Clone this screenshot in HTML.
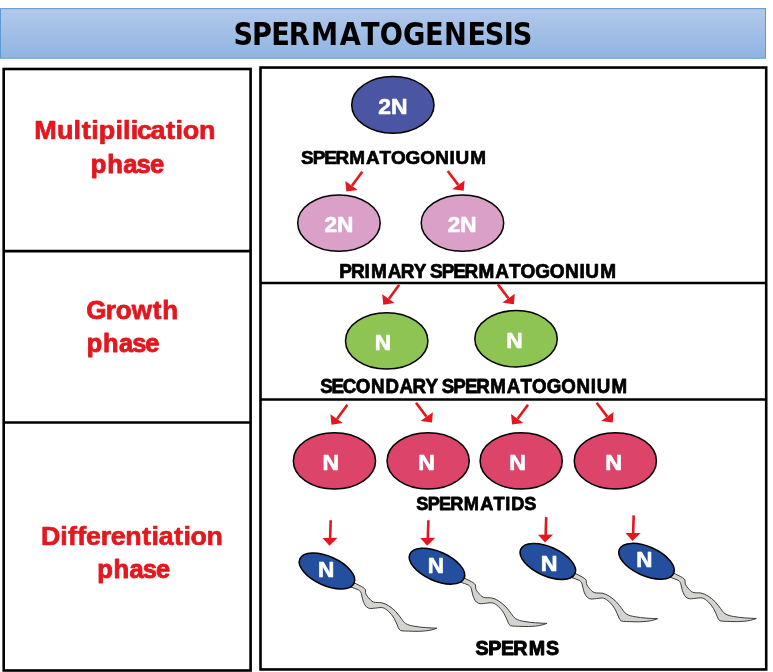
<!DOCTYPE html>
<html><head><meta charset="utf-8"><title>Spermatogenesis</title>
<style>
html,body{margin:0;padding:0;background:#fff;}
svg{display:block;}
text{font-family:"Liberation Sans",Arial,Helvetica,sans-serif;font-weight:bold;font-kerning:none;}
</style></head><body>
<svg width="773" height="672" viewBox="0 0 773 672">
<defs><linearGradient id="hg" x1="0" y1="0" x2="0" y2="1"><stop offset="0" stop-color="#b3c9e9"/><stop offset="1" stop-color="#8fb4e3"/></linearGradient></defs>
<rect width="773" height="672" fill="#fff"/>
<rect x="0.5" y="8.6" width="765" height="49.6" fill="url(#hg)" stroke="#5b9bd5" stroke-width="1"/>
<g fill="none" stroke="#000" stroke-width="2.6">
<rect x="3.7" y="69" width="246.9" height="601.5"/>
<path d="M3.7,251.15 H250.6 M3.7,422.45 H250.6"/>
<rect x="260.5" y="67.55" width="505.7" height="601.9"/>
<path d="M260.5,283.05 H766.2 M260.5,399.5 H766.2"/>
</g>
<ellipse cx="392.85" cy="104.9" rx="41.15" ry="28.30" fill="#4a55a3" stroke="#000" stroke-width="1.5"/>
<ellipse cx="338.95" cy="223.1" rx="41.25" ry="28.20" fill="#dba0c8" stroke="#000" stroke-width="1.5"/>
<ellipse cx="462.45" cy="223.1" rx="41.25" ry="28.20" fill="#dba0c8" stroke="#000" stroke-width="1.5"/>
<ellipse cx="386.7" cy="340.9" rx="41.20" ry="28.20" fill="#8dc454" stroke="#000" stroke-width="1.5"/>
<ellipse cx="516.05" cy="338.8" rx="41.20" ry="28.20" fill="#8dc454" stroke="#000" stroke-width="1.5"/>
<ellipse cx="334.45" cy="460.9" rx="41.10" ry="28.20" fill="#dd4469" stroke="#000" stroke-width="1.5"/>
<ellipse cx="428.15" cy="460.9" rx="41.10" ry="28.20" fill="#dd4469" stroke="#000" stroke-width="1.5"/>
<ellipse cx="521.2" cy="460.9" rx="41.10" ry="28.20" fill="#dd4469" stroke="#000" stroke-width="1.5"/>
<ellipse cx="615.35" cy="460.9" rx="41.10" ry="28.20" fill="#dd4469" stroke="#000" stroke-width="1.5"/>
<g transform="translate(346.4,191.6)" fill="#e3171f" stroke="none"><path d="M15.9,-19.9 L5.5,-5.8" stroke="#e3171f" stroke-width="2.6" fill="none"/><path d="M0,0 L-1.1,-10.5 L11.3,-1.7 Z"/></g>
<g transform="translate(463.7,190.8)" fill="#e3171f" stroke="none"><path d="M-16.0,-19.8 L-5.5,-5.9" stroke="#e3171f" stroke-width="2.6" fill="none"/><path d="M0,0 L0.9,-10.4 L-11.5,-1.6 Z"/></g>
<g transform="translate(383.3,304.7)" fill="#e3171f" stroke="none"><path d="M15.9,-19.9 L5.5,-5.8" stroke="#e3171f" stroke-width="2.6" fill="none"/><path d="M0,0 L-1.1,-10.5 L11.3,-1.7 Z"/></g>
<g transform="translate(513.9,304.2)" fill="#e3171f" stroke="none"><path d="M-16.0,-19.8 L-5.5,-5.9" stroke="#e3171f" stroke-width="2.6" fill="none"/><path d="M0,0 L0.9,-10.4 L-11.5,-1.6 Z"/></g>
<g transform="translate(331.5,424.7)" fill="#e3171f" stroke="none"><path d="M15.9,-19.9 L5.5,-5.8" stroke="#e3171f" stroke-width="2.6" fill="none"/><path d="M0,0 L-1.1,-10.5 L11.3,-1.7 Z"/></g>
<g transform="translate(432.0,422.6)" fill="#e3171f" stroke="none"><path d="M-16.0,-19.8 L-5.5,-5.9" stroke="#e3171f" stroke-width="2.6" fill="none"/><path d="M0,0 L0.9,-10.4 L-11.5,-1.6 Z"/></g>
<g transform="translate(512.1,424.6)" fill="#e3171f" stroke="none"><path d="M15.9,-19.9 L5.5,-5.8" stroke="#e3171f" stroke-width="2.6" fill="none"/><path d="M0,0 L-1.1,-10.5 L11.3,-1.7 Z"/></g>
<g transform="translate(612.7,422.5)" fill="#e3171f" stroke="none"><path d="M-16.0,-19.8 L-5.5,-5.9" stroke="#e3171f" stroke-width="2.6" fill="none"/><path d="M0,0 L0.9,-10.4 L-11.5,-1.6 Z"/></g>
<g transform="translate(0,0)" fill="#e3171f" stroke="none"><path d="M330.7,520.2 L330.1,539" stroke="#e3171f" stroke-width="2.6" fill="none"/><path d="M322.5,537.9 L337.6,537.7 L329.5,545.7 Z"/></g>
<g transform="translate(97.7,0)" fill="#e3171f" stroke="none"><path d="M330.7,520.2 L330.1,539" stroke="#e3171f" stroke-width="2.6" fill="none"/><path d="M322.5,537.9 L337.6,537.7 L329.5,545.7 Z"/></g>
<g transform="translate(215.5,-3.1)" fill="#e3171f" stroke="none"><path d="M330.7,520.2 L330.1,539" stroke="#e3171f" stroke-width="2.6" fill="none"/><path d="M322.5,537.9 L337.6,537.7 L329.5,545.7 Z"/></g>
<g transform="translate(303,-4.8)" fill="#e3171f" stroke="none"><path d="M330.7,520.2 L330.1,539" stroke="#e3171f" stroke-width="2.6" fill="none"/><path d="M322.5,537.9 L337.6,537.7 L329.5,545.7 Z"/></g>
<g transform="translate(0,0)"><path d="M354.2,582.8 L361.3,586.4 C364,588 365.8,589 365.6,591 C365.2,593.5 366.5,595.5 368.5,597.75 C370,599.5 371.5,601.3 373.4,602 C376,602.9 378.5,602.3 381.3,602.7 C384,603.2 386.2,604.2 388.4,605.6 C391,607.3 393.5,609.3 395.5,611.3 C397.8,613.7 399.5,616.2 401.2,618.4 C402.6,620.3 403.8,622.3 405.5,623.4 C408,625 411,625.7 414,626.2 C418,626.9 421.5,627.3 425.4,627.6 C429,627.9 433,628 436.8,628.2 C433,629.8 429,630.5 425.4,630.9 C420.5,631.4 416,631.5 411.2,631.2 C407.5,631 403.5,631.2 400.5,630.5 C399.3,629.8 398.8,628.8 398.3,627.6 C397,624.5 395.8,621.3 394.1,618.4 C392.6,615.8 390.8,613.3 388.4,611.3 C386.7,609.9 385,608.2 382.7,607.7 C380.3,607.2 378,607.9 375.6,608.1 C373.2,608.3 370.6,608.9 368.5,608.1 C366.9,607.5 365.7,606.3 364.9,604.9 C364,603.3 363.3,601.6 362.8,599.9 C362.2,597.8 361.9,595.6 361.3,593.5 C360.8,591.9 359.9,590.6 358.5,589.9 C355.8,588.5 352.8,587.8 350,586.8 Z" fill="#d3d3cf" stroke="#3c3c3c" stroke-width="1" stroke-linejoin="round"/><ellipse cx="327" cy="571" rx="29.7" ry="14.5" transform="rotate(24 327 571)" fill="#244f9e" stroke="#000" stroke-width="1.5"/></g>
<g transform="translate(110,-4.8)"><path d="M354.2,582.8 L361.3,586.4 C364,588 365.8,589 365.6,591 C365.2,593.5 366.5,595.5 368.5,597.75 C370,599.5 371.5,601.3 373.4,602 C376,602.9 378.5,602.3 381.3,602.7 C384,603.2 386.2,604.2 388.4,605.6 C391,607.3 393.5,609.3 395.5,611.3 C397.8,613.7 399.5,616.2 401.2,618.4 C402.6,620.3 403.8,622.3 405.5,623.4 C408,625 411,625.7 414,626.2 C418,626.9 421.5,627.3 425.4,627.6 C429,627.9 433,628 436.8,628.2 C433,629.8 429,630.5 425.4,630.9 C420.5,631.4 416,631.5 411.2,631.2 C407.5,631 403.5,631.2 400.5,630.5 C399.3,629.8 398.8,628.8 398.3,627.6 C397,624.5 395.8,621.3 394.1,618.4 C392.6,615.8 390.8,613.3 388.4,611.3 C386.7,609.9 385,608.2 382.7,607.7 C380.3,607.2 378,607.9 375.6,608.1 C373.2,608.3 370.6,608.9 368.5,608.1 C366.9,607.5 365.7,606.3 364.9,604.9 C364,603.3 363.3,601.6 362.8,599.9 C362.2,597.8 361.9,595.6 361.3,593.5 C360.8,591.9 359.9,590.6 358.5,589.9 C355.8,588.5 352.8,587.8 350,586.8 Z" fill="#d3d3cf" stroke="#3c3c3c" stroke-width="1" stroke-linejoin="round"/><ellipse cx="327" cy="571" rx="29.7" ry="14.5" transform="rotate(24 327 571)" fill="#244f9e" stroke="#000" stroke-width="1.5"/></g>
<g transform="translate(220.8,-9.5)"><path d="M354.2,582.8 L361.3,586.4 C364,588 365.8,589 365.6,591 C365.2,593.5 366.5,595.5 368.5,597.75 C370,599.5 371.5,601.3 373.4,602 C376,602.9 378.5,602.3 381.3,602.7 C384,603.2 386.2,604.2 388.4,605.6 C391,607.3 393.5,609.3 395.5,611.3 C397.8,613.7 399.5,616.2 401.2,618.4 C402.6,620.3 403.8,622.3 405.5,623.4 C408,625 411,625.7 414,626.2 C418,626.9 421.5,627.3 425.4,627.6 C429,627.9 433,628 436.8,628.2 C433,629.8 429,630.5 425.4,630.9 C420.5,631.4 416,631.5 411.2,631.2 C407.5,631 403.5,631.2 400.5,630.5 C399.3,629.8 398.8,628.8 398.3,627.6 C397,624.5 395.8,621.3 394.1,618.4 C392.6,615.8 390.8,613.3 388.4,611.3 C386.7,609.9 385,608.2 382.7,607.7 C380.3,607.2 378,607.9 375.6,608.1 C373.2,608.3 370.6,608.9 368.5,608.1 C366.9,607.5 365.7,606.3 364.9,604.9 C364,603.3 363.3,601.6 362.8,599.9 C362.2,597.8 361.9,595.6 361.3,593.5 C360.8,591.9 359.9,590.6 358.5,589.9 C355.8,588.5 352.8,587.8 350,586.8 Z" fill="#d3d3cf" stroke="#3c3c3c" stroke-width="1" stroke-linejoin="round"/><ellipse cx="327" cy="571" rx="29.7" ry="14.5" transform="rotate(24 327 571)" fill="#244f9e" stroke="#000" stroke-width="1.5"/></g>
<g transform="translate(319.5,-9.7)"><path d="M354.2,582.8 L361.3,586.4 C364,588 365.8,589 365.6,591 C365.2,593.5 366.5,595.5 368.5,597.75 C370,599.5 371.5,601.3 373.4,602 C376,602.9 378.5,602.3 381.3,602.7 C384,603.2 386.2,604.2 388.4,605.6 C391,607.3 393.5,609.3 395.5,611.3 C397.8,613.7 399.5,616.2 401.2,618.4 C402.6,620.3 403.8,622.3 405.5,623.4 C408,625 411,625.7 414,626.2 C418,626.9 421.5,627.3 425.4,627.6 C429,627.9 433,628 436.8,628.2 C433,629.8 429,630.5 425.4,630.9 C420.5,631.4 416,631.5 411.2,631.2 C407.5,631 403.5,631.2 400.5,630.5 C399.3,629.8 398.8,628.8 398.3,627.6 C397,624.5 395.8,621.3 394.1,618.4 C392.6,615.8 390.8,613.3 388.4,611.3 C386.7,609.9 385,608.2 382.7,607.7 C380.3,607.2 378,607.9 375.6,608.1 C373.2,608.3 370.6,608.9 368.5,608.1 C366.9,607.5 365.7,606.3 364.9,604.9 C364,603.3 363.3,601.6 362.8,599.9 C362.2,597.8 361.9,595.6 361.3,593.5 C360.8,591.9 359.9,590.6 358.5,589.9 C355.8,588.5 352.8,587.8 350,586.8 Z" fill="#d3d3cf" stroke="#3c3c3c" stroke-width="1" stroke-linejoin="round"/><ellipse cx="327" cy="571" rx="29.7" ry="14.5" transform="rotate(24 327 571)" fill="#244f9e" stroke="#000" stroke-width="1.5"/></g>
<text transform="scale(0.8733,1)" x="267.30 288.57 310.66 330.53 356.01 389.11 413.24 434.85 461.50 486.64 508.52 535.28 555.17 576.96 587.15" y="45.45" font-size="31.21" fill="#000" style="font-family:'DejaVu Sans','Liberation Sans',sans-serif">SPERMATOGENESIS</text>
<text transform="scale(1.0617,1)" x="32.30 53.78 69.21 76.89 85.96 93.11 108.73 115.89 123.06 128.98 141.76 156.28 165.35 172.23 187.41" y="139.35" font-size="25.44" fill="#e3171f" stroke="#e3171f" stroke-width="0.71" stroke-linejoin="round">Multipilication</text>
<text transform="scale(1.0064,1)" x="90.24 106.52 122.53 135.75 148.98" y="172.65" font-size="25.44" fill="#e3171f" stroke="#e3171f" stroke-width="0.90" stroke-linejoin="round">phase</text>
<text transform="scale(1.0210,1)" x="84.54 103.59 113.48 129.10 149.72 158.84" y="319.05" font-size="25.44" fill="#e3171f" stroke="#e3171f" stroke-width="0.76" stroke-linejoin="round">Growth</text>
<text transform="scale(0.9993,1)" x="86.74 103.01 119.02 132.25 145.47" y="352.25" font-size="25.44" fill="#e3171f" stroke="#e3171f" stroke-width="0.89" stroke-linejoin="round">phase</text>
<text transform="scale(1.0402,1)" x="39.49 57.93 65.28 74.23 82.76 96.81 106.58 120.49 136.56 145.68 152.62 167.23 176.34 183.22 198.48" y="545.45" font-size="25.73" fill="#e3171f" stroke="#e3171f" stroke-width="0.67" stroke-linejoin="round">Differentiation</text>
<text transform="scale(0.9908,1)" x="98.18 114.64 130.83 144.20 157.58" y="578.45" font-size="25.73" fill="#e3171f" stroke="#e3171f" stroke-width="0.89" stroke-linejoin="round">phase</text>
<text transform="scale(0.9988,1)" x="301.37 313.03 324.62 335.82 349.73 366.41 379.98 391.56 406.10 420.65 435.81 450.17 456.01 470.85" y="163.95" font-size="18.97" fill="#000" stroke="#000" stroke-width="0.71" stroke-linejoin="round">SPERMATOGONIUM</text>
<text transform="scale(0.9745,1)" x="348.25 360.29 374.03 380.75 397.92 411.31 424.67 437.08 441.25 453.26 465.21 476.76 491.10 508.28 522.27 534.20 549.19 564.19 579.81 594.59 600.63 615.92" y="278.45" font-size="19.48" fill="#000" stroke="#000" stroke-width="0.73" stroke-linejoin="round">PRIMARY SPERMATOGONIUM</text>
<text transform="scale(0.9660,1)" x="331.52 343.11 354.75 368.37 384.08 399.04 413.62 427.09 440.53 452.99 457.22 469.31 481.34 492.96 507.41 524.69 538.76 550.78 565.87 580.97 596.68 611.51 617.63 633.04" y="393.45" font-size="19.40" fill="#000" stroke="#000" stroke-width="0.75" stroke-linejoin="round">SECONDARY SPERMATOGONIUM</text>
<text transform="scale(0.9579,1)" x="434.53 446.51 458.42 469.94 484.27 501.37 515.29 527.35 533.62 547.35" y="510.45" font-size="18.97" fill="#000" stroke="#000" stroke-width="0.77" stroke-linejoin="round">SPERMATIDS</text>
<text transform="scale(0.9799,1)" x="485.19 498.26 511.26 523.84 539.50 557.32" y="654.70" font-size="20.06" fill="#000" stroke="#000" stroke-width="0.95" stroke-linejoin="round">SPERMS</text>
<text transform="scale(1.0218,1)" x="370.09 382.58" y="114.45" font-size="22.46" fill="#fff" stroke="#fff" stroke-width="0.60" stroke-linejoin="round">2N</text>
<text transform="scale(1.0620,1)" x="305.52 317.40" y="231.85" font-size="21.37" fill="#fff" stroke="#fff" stroke-width="0.60" stroke-linejoin="round">2N</text>
<text transform="scale(1.0580,1)" x="423.21 435.09" y="231.85" font-size="21.37" fill="#fff" stroke="#fff" stroke-width="0.60" stroke-linejoin="round">2N</text>
<text transform="scale(1.0102,1)" x="370.92" y="350.45" font-size="22.31" fill="#fff" stroke="#fff" stroke-width="0.67" stroke-linejoin="round">N</text>
<text transform="scale(1.0117,1)" x="500.46" y="348.10" font-size="22.53" fill="#fff" stroke="#fff" stroke-width="0.67" stroke-linejoin="round">N</text>
<text transform="scale(1.0330,1)" x="312.19" y="470.45" font-size="22.31" fill="#fff" stroke="#fff" stroke-width="0.68" stroke-linejoin="round">N</text>
<text transform="scale(1.0330,1)" x="404.98" y="470.45" font-size="22.31" fill="#fff" stroke="#fff" stroke-width="0.68" stroke-linejoin="round">N</text>
<text transform="scale(1.0330,1)" x="492.88" y="470.45" font-size="22.31" fill="#fff" stroke="#fff" stroke-width="0.68" stroke-linejoin="round">N</text>
<text transform="scale(1.0445,1)" x="579.42" y="470.45" font-size="22.31" fill="#fff" stroke="#fff" stroke-width="0.69" stroke-linejoin="round">N</text>
<text transform="scale(0.9851,1)" x="322.80" y="577.40" font-size="22.97" fill="#fff" stroke="#fff" stroke-width="0.67" stroke-linejoin="round">N</text>
<text transform="scale(0.9966,1)" x="429.15" y="572.90" font-size="22.53" fill="#fff" stroke="#fff" stroke-width="0.66" stroke-linejoin="round">N</text>
<text transform="scale(1.0110,1)" x="534.85" y="571.00" font-size="22.97" fill="#fff" stroke="#fff" stroke-width="0.69" stroke-linejoin="round">N</text>
<text transform="scale(0.9839,1)" x="646.60" y="567.00" font-size="22.82" fill="#fff" stroke="#fff" stroke-width="0.66" stroke-linejoin="round">N</text>
</svg>
</body></html>
